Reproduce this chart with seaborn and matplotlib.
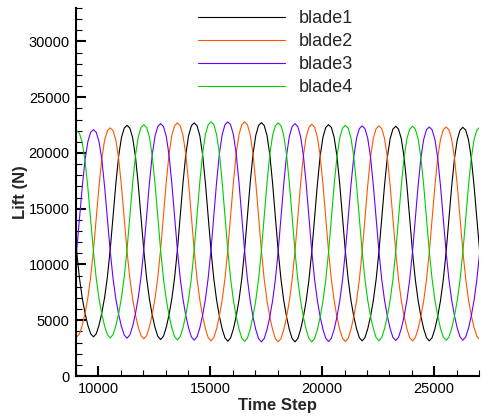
import seaborn as sns
import matplotlib.pyplot as plt
import matplotlib.ticker as mticker
import pandas as pd
import numpy as np

# sample times (every 125 steps)
t_start, t_step, n_pts = 8780, 125, 147
time_step = t_start + t_step * np.arange(n_pts)

blade1 = [16824, 13956, 11142, 8770, 6967, 5606, 4540, 3786, 3510,
          3795, 4572, 5673, 7076, 8935, 11383, 14285, 17244, 19729, 21380, 22233, 22480,
          22230, 21366, 19695, 17178, 14181, 11242, 8764, 6881, 5460, 4346, 3558, 3270,
          3561, 4358, 5485, 6923, 8827, 11333, 14306, 17337, 19883, 21573, 22447, 22700,
          22445, 21564, 19861, 17296, 14241, 11246, 8720, 6801, 5352, 4216, 3414, 3120,
          3414, 4218, 5354, 6805, 8726, 11254, 14253, 17310, 19878, 21583, 22465, 22720,
          22464, 21580, 19869, 17294, 14227, 11219, 8683, 6756, 5301, 4161, 3355, 3060,
          3352, 4151, 5281, 6722, 8631, 11144, 14125, 17164, 19715, 21410, 22287, 22540,
          22288, 21415, 19728, 17188, 14164, 11197, 8696, 6795, 5360, 4236, 3441, 3150,
          3439, 4227, 5343, 6767, 8653, 11135, 14078, 17080, 19600, 21274, 22140, 22390,
          22140, 21274, 19600, 17080, 14078, 11135, 8653, 6767, 5343, 4227, 3439, 3150,
          3437, 4222, 5333, 6750, 8627, 11097, 14027, 17015, 19523, 21189, 22051, 22300,
          22052, 21195, 19538, 17042, 14070, 11156]
blade2 = [4530, 3776, 3500,
          3781, 4550, 5638, 7025, 8863, 11281, 14150, 17075, 19531, 21163, 22006, 22250,
          22004, 21153, 19507, 17028, 14077, 11182, 8741, 6887, 5487, 4390, 3614, 3330,
          3621, 4415, 5538, 6972, 8870, 11369, 14332, 17354, 19891, 21577, 22448, 22700,
          22446, 21566, 19865, 17304, 14254, 11263, 8741, 6825, 5379, 4245, 3443, 3150,
          3445, 4250, 5389, 6842, 8767, 11301, 14306, 17369, 19942, 21651, 22535, 22790,
          22534, 21646, 19929, 17345, 14267, 11248, 8703, 6769, 5309, 4165, 3356, 3060,
          3353, 4153, 5284, 6728, 8640, 11157, 14142, 17185, 19741, 21438, 22316, 22570,
          22317, 21440, 19745, 17194, 14155, 11174, 8661, 6752, 5311, 4181, 3382, 3090,
          3380, 4173, 5295, 6726, 8621, 11116, 14075, 17092, 19626, 21308, 22179, 22430,
          22179, 21312, 19634, 17109, 14101, 11151, 8664, 6775, 5348, 4230, 3439, 3150,
          3438, 4224, 5337, 6756, 8635, 11110, 14044, 17036, 19549, 21218, 22081, 22330,
          22082, 21225, 19566, 17069, 14096, 11180, 8721, 6853, 5443, 4337, 3556, 3270]
blade3 = [7036, 8852, 11244, 14081, 16973, 19402, 21015, 21849, 22090,
          21847, 21005, 19379, 16929, 14012, 11151, 8738, 6906, 5522, 4437, 3671, 3390,
          3679, 4467, 5583, 7007, 8893, 11375, 14318, 17320, 19840, 21514, 22380, 22630,
          22378, 21504, 19814, 17270, 14241, 11269, 8764, 6861, 5424, 4298, 3501, 3210,
          3504, 4306, 5442, 6891, 8810, 11336, 14331, 17386, 19951, 21654, 22535, 22790,
          22534, 21646, 19929, 17345, 14267, 11248, 8703, 6769, 5309, 4165, 3356, 3060,
          3354, 4156, 5291, 6739, 8657, 11182, 14176, 17229, 19792, 21495, 22376, 22630,
          22376, 21497, 19797, 17237, 14189, 11199, 8678, 6764, 5318, 4184, 3383, 3090,
          3380, 4173, 5295, 6726, 8621, 11116, 14075, 17092, 19626, 21308, 22179, 22430,
          22180, 21314, 19639, 17117, 14114, 11169, 8686, 6799, 5375, 4258, 3469, 3180,
          3467, 4252, 5363, 6780, 8657, 11127, 14057, 17045, 19553, 21219, 22081, 22330,
          22081, 21221, 19558, 17053, 14070, 11145, 8678, 6805, 5390, 4281, 3497, 3210,
          3496, 4276, 5381, 6790, 8655, 11112]
blade4 = [20930, 21760, 22000,
          21758, 20922, 19306, 16872, 13973, 11131, 8734, 6913, 5538, 4460, 3699, 3420,
          3707, 4491, 5600, 7015, 8888, 11355, 14280, 17263, 19768, 21431, 22291, 22540,
          22289, 21421, 19742, 17213, 14202, 11250, 8760, 6868, 5440, 4321, 3530, 3240,
          3533, 4335, 5469, 6915, 8831, 11353, 14344, 17394, 19955, 21656, 22536, 22790,
          22534, 21648, 19935, 17356, 14284, 11271, 8731, 6802, 5345, 4203, 3395, 3100,
          3394, 4198, 5334, 6785, 8706, 11234, 14233, 17290, 19858, 21563, 22445, 22700,
          22445, 21561, 19852, 17279, 14216, 11211, 8677, 6752, 5299, 4160, 3355, 3060,
          3351, 4148, 5274, 6711, 8614, 11119, 14091, 17120, 19664, 21354, 22228, 22480,
          22229, 21359, 19679, 17148, 14134, 11178, 8686, 6792, 5362, 4242, 3450, 3160,
          3448, 4237, 5352, 6775, 8660, 11140, 14083, 17083, 19602, 21275, 22140, 22390,
          22141, 21277, 19607, 17094, 14100, 11164, 8688, 6808, 5388, 4275, 3488, 3200,
          3487, 4270, 5377, 6791, 8663, 11127, 14049, 17028, 19531, 21192, 22052, 22300]

names = ["blade1", "blade2", "blade3", "blade4"]
colors = ["#000000", "#ff5500", "#6600ff", "#00cc00"]

df = pd.concat([
    pd.DataFrame({"Time Step": time_step, "Lift (N)": vals, "blade": name})
    for name, vals in zip(names, [blade1, blade2, blade3, blade4])
])

sns.set_style("ticks")
plt.rcParams["font.family"] = ["Liberation Sans", "DejaVu Sans"]

fig = plt.figure(figsize=(4.82, 4.19), dpi=100)
ax = fig.add_axes([76 / 482, 1 - 376 / 419, 403 / 482, 368 / 419])

sns.lineplot(data=df, x="Time Step", y="Lift (N)", hue="blade",
             palette=dict(zip(names, colors)), estimator=None, sort=False,
             linewidth=0.8, ax=ax)

ax.set_xlim(9000, 27000)
ax.set_ylim(0, 33000)
ax.xaxis.set_major_locator(mticker.MultipleLocator(5000))
ax.xaxis.set_minor_locator(mticker.MultipleLocator(1000))
ax.yaxis.set_major_locator(mticker.MultipleLocator(5000))
ax.yaxis.set_minor_locator(mticker.MultipleLocator(1000))

for side in ["top", "right"]:
    ax.spines[side].set_visible(False)
for side in ["left", "bottom"]:
    ax.spines[side].set_linewidth(1.5)
    ax.spines[side].set_color("black")

ax.tick_params(which="major", direction="in", length=7, width=1.5,
               labelsize=10.5, pad=4.5, colors="black")
ax.tick_params(which="minor", direction="in", length=4.5, width=0.8,
               colors="black")

ax.set_xlabel("Time Step", fontsize=12, fontweight="bold")
ax.set_ylabel("Lift (N)", fontsize=12, fontweight="bold")
ax.xaxis.set_label_coords(0.5, -0.06)
ax.yaxis.set_label_coords(-0.12, 0.5)

ax.legend(loc="upper left", bbox_to_anchor=(198 / 482, 1 - 10 / 419),
          bbox_transform=fig.transFigure, frameon=False, fontsize=13,
          handlelength=4.8, handletextpad=0.8, labelspacing=0.34,
          borderpad=0, borderaxespad=0)

plt.savefig("out.png", dpi=100)
plt.close()
